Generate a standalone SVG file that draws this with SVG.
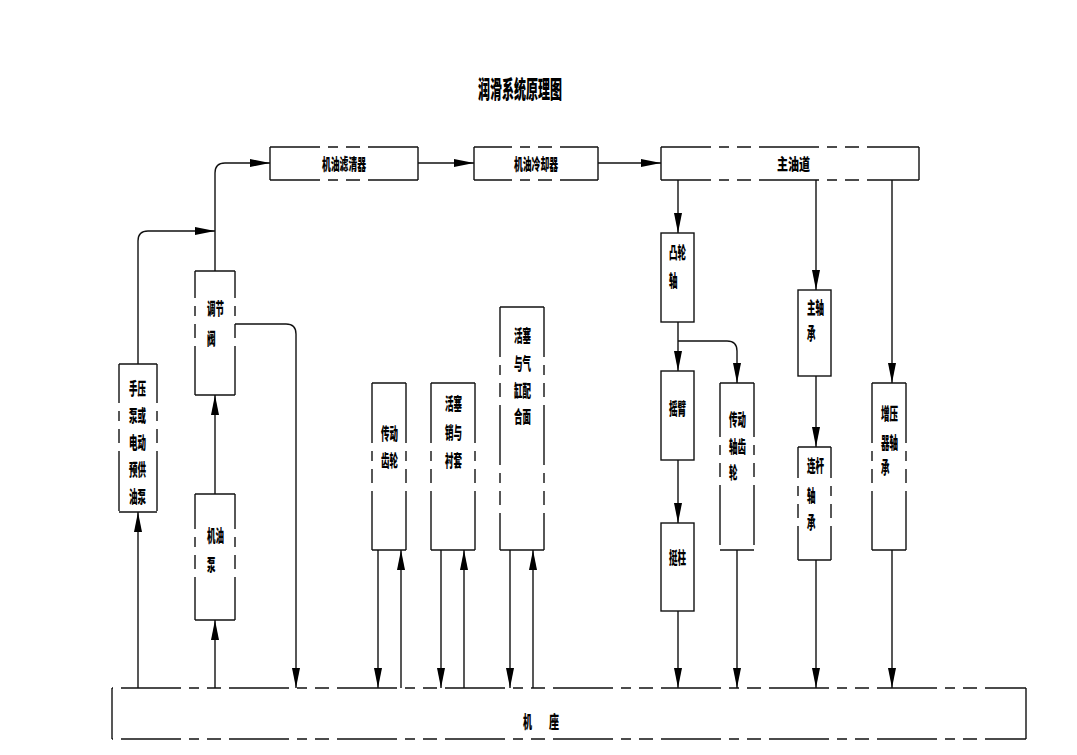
<svg xmlns="http://www.w3.org/2000/svg" width="1077" height="755" viewBox="0 0 1077 755">
<style>
.ln{stroke:#111;stroke-width:1.4;fill:none}
.dh,.dv{stroke:#111;stroke-width:1.4;fill:none;stroke-dasharray:60 8 10 8 14 8}
.c{stroke:#111;stroke-width:1.4;fill:none;marker-end:url(#ah)}
text{font-family:"Noto Sans CJK SC","Noto Sans CJK JP",sans-serif;font-weight:900;fill:#000}
.t{font-size:17px}
.tb{font-size:16px}
.ti{font-size:24px}
</style>
<defs>
<marker id="ah" viewBox="0 0 20 8" refX="20" refY="4" markerWidth="20" markerHeight="8" markerUnits="userSpaceOnUse" orient="auto">
<path d="M0,0 L20,4 L0,8 z" fill="#000"/>
</marker>
</defs>
<rect width="1077" height="755" fill="#fff"/>
<text class="ti" x="478" y="98" textLength="84" lengthAdjust="spacingAndGlyphs">润滑系统原理图</text>

<g id="filter">
<line class="dh" style="stroke-dashoffset:10" x1="270" y1="147" x2="418" y2="147"/>
<line class="dh" style="stroke-dashoffset:10" x1="270" y1="180" x2="418" y2="180"/>
<line class="ln" x1="270" y1="147" x2="270" y2="180"/>
<line class="ln" x1="418" y1="147" x2="418" y2="180"/>
<text class="tb" x="322" y="170" textLength="44" lengthAdjust="spacingAndGlyphs">机油滤清器</text>
</g>
<g id="cooler">
<line class="dh" style="stroke-dashoffset:22" x1="474" y1="147" x2="598" y2="147"/>
<line class="dh" style="stroke-dashoffset:22" x1="474" y1="180" x2="598" y2="180"/>
<line class="ln" x1="474" y1="147" x2="474" y2="180"/>
<line class="ln" x1="598" y1="147" x2="598" y2="180"/>
<text class="tb" x="514" y="170" textLength="44" lengthAdjust="spacingAndGlyphs">机油冷却器</text>
</g>
<g id="gallery">
<line class="dh" style="stroke-dashoffset:10" x1="661" y1="147" x2="919" y2="147"/>
<line class="dh" style="stroke-dashoffset:10" x1="661" y1="180" x2="919" y2="180"/>
<line class="ln" x1="661" y1="147" x2="661" y2="180"/>
<line class="ln" x1="919" y1="147" x2="919" y2="180"/>
<text class="tb" x="777" y="170" textLength="33" lengthAdjust="spacingAndGlyphs">主油道</text>
</g>

<g id="prepump">
<line class="ln" x1="119" y1="364" x2="157" y2="364"/>
<line class="ln" x1="119" y1="512" x2="157" y2="512"/>
<line class="dv" style="stroke-dashoffset:21" x1="119" y1="364" x2="119" y2="512"/>
<line class="dv" style="stroke-dashoffset:21" x1="157" y1="364" x2="157" y2="512"/>
<text class="t" x="129" y="395" textLength="17" lengthAdjust="spacingAndGlyphs">手压</text>
<text class="t" x="129" y="422" textLength="17" lengthAdjust="spacingAndGlyphs">泵或</text>
<text class="t" x="129" y="449" textLength="17" lengthAdjust="spacingAndGlyphs">电动</text>
<text class="t" x="129" y="476" textLength="17" lengthAdjust="spacingAndGlyphs">预供</text>
<text class="t" x="129" y="503" textLength="17" lengthAdjust="spacingAndGlyphs">油泵</text>
</g>
<g id="valve">
<line class="ln" x1="195" y1="271" x2="235" y2="271"/>
<line class="ln" x1="195" y1="395" x2="235" y2="395"/>
<line class="dv" style="stroke-dashoffset:33" x1="195" y1="271" x2="195" y2="395"/>
<line class="dv" style="stroke-dashoffset:33" x1="235" y1="271" x2="235" y2="395"/>
<text class="t" x="207" y="315" textLength="17" lengthAdjust="spacingAndGlyphs">调节</text>
<text class="t" x="207" y="345" textLength="8.5" lengthAdjust="spacingAndGlyphs">阀</text>
</g>
<g id="oilpump">
<line class="ln" x1="195" y1="494" x2="235" y2="494"/>
<line class="ln" x1="195" y1="620" x2="235" y2="620"/>
<line class="dv" style="stroke-dashoffset:25" x1="195" y1="494" x2="195" y2="620"/>
<line class="dv" style="stroke-dashoffset:25" x1="235" y1="494" x2="235" y2="620"/>
<text class="t" x="207" y="542" textLength="17" lengthAdjust="spacingAndGlyphs">机油</text>
<text class="t" x="207" y="571" textLength="8.5" lengthAdjust="spacingAndGlyphs">泵</text>
</g>
<g id="gear">
<line class="ln" x1="372" y1="383" x2="406" y2="383"/>
<line class="ln" x1="372" y1="550" x2="406" y2="550"/>
<line class="dv" x1="372" y1="383" x2="372" y2="550"/>
<line class="dv" x1="406" y1="383" x2="406" y2="550"/>
<text class="t" x="381" y="440" textLength="17" lengthAdjust="spacingAndGlyphs">传动</text>
<text class="t" x="381" y="467" textLength="17" lengthAdjust="spacingAndGlyphs">齿轮</text>
</g>
<g id="pin">
<line class="ln" x1="431" y1="383" x2="475" y2="383"/>
<line class="ln" x1="431" y1="550" x2="475" y2="550"/>
<line class="dv" x1="431" y1="383" x2="431" y2="550"/>
<line class="dv" x1="475" y1="383" x2="475" y2="550"/>
<text class="t" x="445" y="410" textLength="17" lengthAdjust="spacingAndGlyphs">活塞</text>
<text class="t" x="445" y="439" textLength="17" lengthAdjust="spacingAndGlyphs">销与</text>
<text class="t" x="445" y="467" textLength="17" lengthAdjust="spacingAndGlyphs">衬套</text>
</g>
<g id="piston">
<line class="ln" x1="500" y1="307" x2="544" y2="307"/>
<line class="ln" x1="500" y1="550" x2="544" y2="550"/>
<line class="dv" style="stroke-dashoffset:10" x1="500" y1="307" x2="500" y2="550"/>
<line class="dv" style="stroke-dashoffset:10" x1="544" y1="307" x2="544" y2="550"/>
<text class="t" x="514" y="342" textLength="17" lengthAdjust="spacingAndGlyphs">活塞</text>
<text class="t" x="514" y="370" textLength="17" lengthAdjust="spacingAndGlyphs">与气</text>
<text class="t" x="514" y="397" textLength="17" lengthAdjust="spacingAndGlyphs">缸配</text>
<text class="t" x="514" y="423" textLength="17" lengthAdjust="spacingAndGlyphs">合面</text>
</g>
<g id="camshaft">
<rect class="ln" x="661" y="233" width="33" height="89"/>
<text class="t" x="669" y="259" textLength="17" lengthAdjust="spacingAndGlyphs">凸轮</text>
<text class="t" x="669" y="287" textLength="8.5" lengthAdjust="spacingAndGlyphs">轴</text>
</g>
<g id="rocker">
<rect class="ln" x="661" y="371" width="33" height="89"/>
<text class="t" x="669" y="415" textLength="17" lengthAdjust="spacingAndGlyphs">摇臂</text>
</g>
<g id="tappet">
<rect class="ln" x="661" y="523" width="33" height="88"/>
<text class="t" x="669" y="564" textLength="17" lengthAdjust="spacingAndGlyphs">挺柱</text>
</g>
<g id="drivegear">
<line class="ln" x1="720" y1="383" x2="754" y2="383"/>
<line class="ln" x1="720" y1="550" x2="754" y2="550"/>
<line class="dv" style="stroke-dashoffset:6" x1="720" y1="383" x2="720" y2="550"/>
<line class="dv" style="stroke-dashoffset:6" x1="754" y1="383" x2="754" y2="550"/>
<text class="t" x="729" y="426" textLength="17" lengthAdjust="spacingAndGlyphs">传动</text>
<text class="t" x="729" y="453" textLength="17" lengthAdjust="spacingAndGlyphs">轴齿</text>
<text class="t" x="729" y="479" textLength="8.5" lengthAdjust="spacingAndGlyphs">轮</text>
</g>
<g id="mainbearing">
<rect class="ln" x="798" y="290" width="33" height="86"/>
<text class="t" x="807" y="314" textLength="17" lengthAdjust="spacingAndGlyphs">主轴</text>
<text class="t" x="807" y="340" textLength="8.5" lengthAdjust="spacingAndGlyphs">承</text>
</g>
<g id="rodbearing">
<line class="ln" x1="798" y1="447" x2="831" y2="447"/>
<line class="ln" x1="798" y1="560" x2="831" y2="560"/>
<line class="dv" style="stroke-dashoffset:29" x1="798" y1="447" x2="798" y2="560"/>
<line class="dv" style="stroke-dashoffset:29" x1="831" y1="447" x2="831" y2="560"/>
<text class="t" x="807" y="472" textLength="17" lengthAdjust="spacingAndGlyphs">连杆</text>
<text class="t" x="807" y="502" textLength="8.5" lengthAdjust="spacingAndGlyphs">轴</text>
<text class="t" x="807" y="529" textLength="8.5" lengthAdjust="spacingAndGlyphs">承</text>
</g>
<g id="turbobearing">
<line class="ln" x1="872" y1="383" x2="906" y2="383"/>
<line class="ln" x1="872" y1="550" x2="906" y2="550"/>
<line class="dv" style="stroke-dashoffset:0" x1="872" y1="383" x2="872" y2="550"/>
<line class="dv" style="stroke-dashoffset:0" x1="906" y1="383" x2="906" y2="550"/>
<text class="t" x="881" y="420" textLength="17" lengthAdjust="spacingAndGlyphs">增压</text>
<text class="t" x="881" y="449" textLength="17" lengthAdjust="spacingAndGlyphs">器轴</text>
<text class="t" x="881" y="474" textLength="8.5" lengthAdjust="spacingAndGlyphs">承</text>
</g>
<g id="base">
<line class="dh" style="stroke-dashoffset:-9" x1="112" y1="688" x2="1026" y2="688"/>
<line class="dh" style="stroke-dashoffset:-9" x1="112" y1="739" x2="1026" y2="739"/>
<line class="ln" x1="112" y1="688" x2="112" y2="739"/>
<line class="ln" x1="1026" y1="688" x2="1026" y2="739"/>
<text class="t" x="523" y="728" textLength="9" lengthAdjust="spacingAndGlyphs">机</text>
<text class="t" x="549" y="728" textLength="10" lengthAdjust="spacingAndGlyphs">座</text>
</g>

<g id="connectors">
<path class="c" d="M138,364 V241 Q138,231 148,231 H215"/>
<path class="c" d="M215,271 V173 Q215,163 225,163 H270"/>
<path class="c" d="M418,163 H474"/>
<path class="c" d="M598,163 H661"/>
<path class="c" d="M235,324 H286 Q296,324 296,334 V688"/>
<path class="c" d="M215,494 V395"/>
<path class="c" d="M215,688 V620"/>
<path class="c" d="M138,688 V512"/>
<path class="c" d="M378,550 V688"/>
<path class="c" d="M401,688 V550"/>
<path class="c" d="M441,550 V688"/>
<path class="c" d="M464,688 V550"/>
<path class="c" d="M510,550 V688"/>
<path class="c" d="M533,688 V550"/>
<path class="c" d="M678,180 V233"/>
<path class="c" d="M678,322 V371"/>
<path class="c" d="M678,341 H727 Q737,341 737,351 V383"/>
<path class="c" d="M678,460 V523"/>
<path class="c" d="M678,611 V688"/>
<path class="c" d="M737,550 V688"/>
<path class="c" d="M816,180 V290"/>
<path class="c" d="M816,376 V447"/>
<path class="c" d="M816,560 V688"/>
<path class="c" d="M892,180 V383"/>
<path class="c" d="M892,550 V688"/>
</g>
</svg>
